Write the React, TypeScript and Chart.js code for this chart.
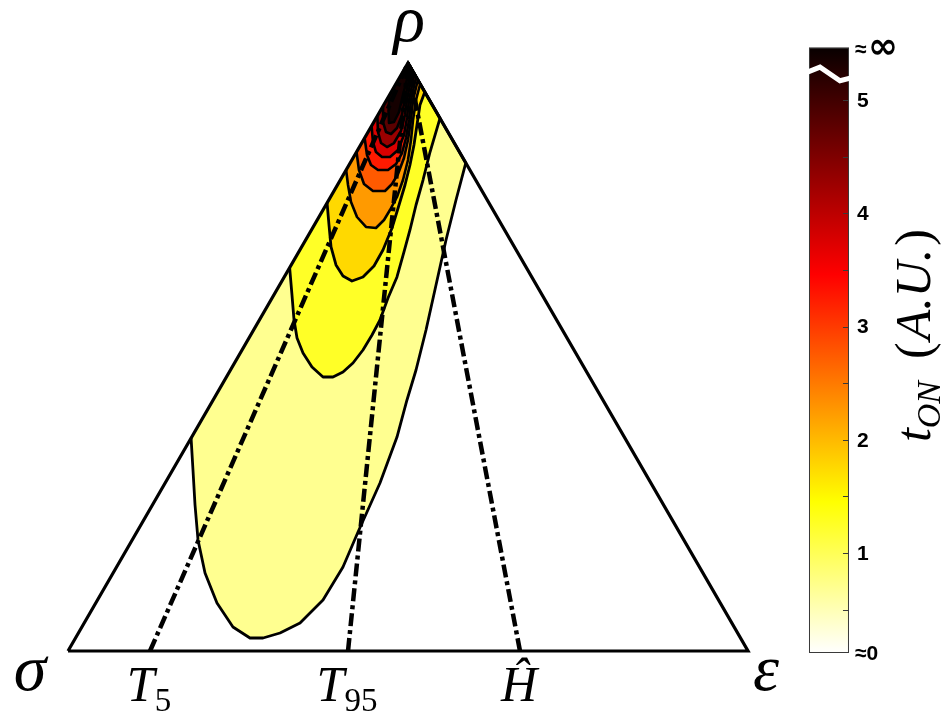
import React, { useEffect, useRef } from 'react';
import { Chart, registerables } from 'chart.js';

Chart.register(...registerables);

type Pt = [number, number];

// Triangle vertices in (base position, height) units: σ, ε, ρ
const vertexLabels = ['σ', 'ε', 'ρ'];
const vertexX = [0, 1, 0.5];
const vertexY = [0, 0, 1];

// Dash-dot reference lines (position on the σ–ε base, all meeting at ρ)
const refLineBaseX = [0.1206, 0.4118, 0.6647];
const refLineMain = ['T', 'T', 'Ĥ'];
const refLineSub = ['5', '95', ''];

// Filled contour levels of t_ON (A.U.)
const levelValues = [0.7, 1.25, 1.75, 2.25, 2.75, 3.25, 3.75, 4.25, 4.75, 5.3];

// Contour outlines (from the right edge, around the bottom, up to the left edge)
const contour1: Pt[] = [[0.585, 0.83], [0.5706, 0.767], [0.5559, 0.699], [0.5412, 0.6224], [0.5265, 0.5459], [0.5118, 0.4779], [0.4985, 0.4269], [0.4838, 0.3639], [0.4588, 0.2857], [0.4265, 0.2024], [0.4044, 0.1429], [0.375, 0.0867], [0.3412, 0.0476], [0.3118, 0.0306], [0.2868, 0.0221], [0.2676, 0.0221], [0.2426, 0.0408], [0.2191, 0.0816], [0.2015, 0.1327], [0.1912, 0.1888], [0.1868, 0.2483], [0.1838, 0.3078], [0.181, 0.362]];
const contour2: Pt[] = [[0.547, 0.906], [0.5324, 0.8486], [0.5221, 0.801], [0.5118, 0.7585], [0.5029, 0.716], [0.4941, 0.6786], [0.4838, 0.6361], [0.4706, 0.6003], [0.4588, 0.5629], [0.4471, 0.5374], [0.4338, 0.5119], [0.4191, 0.4898], [0.4044, 0.4745], [0.3897, 0.466], [0.375, 0.466], [0.3588, 0.483], [0.3456, 0.5068], [0.3368, 0.5323], [0.3324, 0.5629], [0.3294, 0.6054], [0.326, 0.651]];
const contour3: Pt[] = [[0.5247, 0.9507], [0.5176, 0.9286], [0.5132, 0.8946], [0.5088, 0.8605], [0.5029, 0.8265], [0.4956, 0.7925], [0.4868, 0.7585], [0.4765, 0.7194], [0.4632, 0.682], [0.45, 0.6548], [0.4338, 0.6361], [0.4176, 0.6293], [0.4044, 0.6378], [0.3941, 0.6565], [0.3868, 0.6871], [0.3838, 0.7245], [0.381, 0.762]];
const contour4: Pt[] = [[0.5179, 0.9643], [0.5118, 0.9371], [0.5074, 0.9031], [0.5044, 0.869], [0.5, 0.835], [0.4926, 0.801], [0.4838, 0.7721], [0.4735, 0.75], [0.4647, 0.733], [0.4529, 0.7194], [0.4382, 0.7211], [0.425, 0.7381], [0.4162, 0.7636], [0.4118, 0.7925], [0.409, 0.818]];
const contour5: Pt[] = [[0.5145, 0.9711], [0.5074, 0.9371], [0.5044, 0.9031], [0.5, 0.869], [0.4941, 0.8384], [0.4853, 0.8112], [0.4765, 0.7942], [0.4662, 0.7823], [0.4485, 0.7823], [0.4353, 0.7942], [0.4279, 0.818], [0.4243, 0.8486]];
const contour6: Pt[] = [[0.5119, 0.9762], [0.5044, 0.9371], [0.5015, 0.9031], [0.4971, 0.8724], [0.4912, 0.8469], [0.4824, 0.8282], [0.4706, 0.818], [0.4559, 0.818], [0.4456, 0.8265], [0.4397, 0.8435], [0.4362, 0.8724]];
const contour7: Pt[] = [[0.5094, 0.9813], [0.5015, 0.9371], [0.4985, 0.9065], [0.4941, 0.8776], [0.4853, 0.852], [0.4735, 0.8401], [0.4618, 0.8401], [0.4529, 0.8486], [0.4485, 0.8656], [0.4464, 0.8929]];
const contour8: Pt[] = [[0.5068, 0.9864], [0.4985, 0.9371], [0.4956, 0.9116], [0.4897, 0.8844], [0.4794, 0.8639], [0.4691, 0.8571], [0.4603, 0.8639], [0.4559, 0.8827], [0.4549, 0.9099]];
const contour9: Pt[] = [[0.5051, 0.9898], [0.4956, 0.9405], [0.4912, 0.9116], [0.4838, 0.8895], [0.475, 0.8793], [0.4676, 0.8827], [0.4632, 0.8997], [0.4634, 0.9269]];
const contour10: Pt[] = [[0.5034, 0.9932], [0.4926, 0.9456], [0.4868, 0.9167], [0.4794, 0.8997], [0.4721, 0.898], [0.4713, 0.9201], [0.4719, 0.9439]];
const contours = [contour1, contour2, contour3, contour4, contour5, contour6, contour7, contour8, contour9, contour10];

// Colour bar
const cbRange = [0.117, 5.462];
const cbMajorTicks = [1, 2, 3, 4, 5];
const cbMajorLabels = ['1', '2', '3', '4', '5'];
const cbMinorTicks = [0.5, 1.5, 2.5, 3.5, 4.5];
const cbEndLabels = ['≈0', '≈', '∞'];
const cbBarX = [1.0897, 1.1485];
const cbBreakFx = [-0.225, 0.275, 0.775, 1.325];
const cbBreakV = [5.22, 5.29, 5.17, 5.22];
const cbTitleParts = ['t', 'ON', '(', 'A.U.', ')'];
const cbTitlePos = [1.2456, 2.92];

function hotReversed(v: number): string {
  const s = (v - cbRange[0]) / (cbRange[1] - cbRange[0]);
  const t = 1 - s;
  const c = (a: number) => Math.max(0, Math.min(1, a));
  const r = c(t / 0.375);
  const g = c((t - 0.375) / 0.375);
  const b = c((t - 0.75) / 0.25);
  return `rgb(${Math.round(r * 255)},${Math.round(g * 255)},${Math.round(b * 255)})`;
}

type Run = { text: string; font: string; dy?: number; gap?: number };

function drawRuns(ctx: CanvasRenderingContext2D, runs: Run[], cx: number, baseline: number) {
  let total = 0;
  const widths = runs.map((r) => {
    ctx.font = r.font;
    const w = ctx.measureText(r.text).width + (r.gap || 0);
    total += w;
    return w;
  });
  let x = cx - total / 2;
  ctx.textAlign = 'left';
  ctx.textBaseline = 'alphabetic';
  runs.forEach((r, i) => {
    ctx.font = r.font;
    ctx.fillText(r.text, x + (r.gap || 0), baseline + (r.dy || 0));
    x += widths[i];
  });
}

const SERIF = '"Liberation Serif", "DejaVu Serif", serif';
const SANS = '"Liberation Sans", Arial, sans-serif';

const overlayPlugin = {
  id: 'overlay',
  afterDraw(chart: any) {
    const { ctx, scales } = chart;
    const xs = scales.x;
    const ys = scales.y;
    const cs = scales.cb;
    ctx.save();
    ctx.fillStyle = '#000';

    // vertex labels
    const vOff: Pt[] = [[-38, 39], [18, 39], [1, -22]];
    vertexLabels.forEach((lab, i) => {
      const px = xs.getPixelForValue(vertexX[i]) + vOff[i][0];
      const py = ys.getPixelForValue(vertexY[i]) + vOff[i][1];
      drawRuns(ctx, [{ text: lab, font: `italic 66px ${SERIF}` }], px, py);
    });

    // reference line labels
    refLineBaseX.forEach((bx, i) => {
      const px = xs.getPixelForValue(bx) - 1;
      const py = ys.getPixelForValue(0) + 50;
      const runs: Run[] = [{ text: refLineMain[i], font: `italic 50px ${SERIF}` }];
      if (refLineSub[i]) runs.push({ text: refLineSub[i], font: `33px ${SERIF}`, dy: 10 });
      drawRuns(ctx, runs, px, py);
    });

    // colour bar
    const left = xs.getPixelForValue(cbBarX[0]);
    const right = xs.getPixelForValue(cbBarX[1]);
    const bottom = cs.getPixelForValue(cbRange[0]);
    const top = cs.getPixelForValue(cbRange[1]);
    const grad = ctx.createLinearGradient(0, bottom, 0, top);
    grad.addColorStop(0, hotReversed(cbRange[0]));
    grad.addColorStop(0.25, hotReversed(cbRange[0] + 0.25 * (cbRange[1] - cbRange[0])));
    grad.addColorStop(0.625, hotReversed(cbRange[0] + 0.625 * (cbRange[1] - cbRange[0])));
    grad.addColorStop(1, 'rgb(8,0,0)');
    ctx.fillStyle = grad;
    ctx.fillRect(left, top, right - left, bottom - top);
    ctx.strokeStyle = '#3a3a3a';
    ctx.lineWidth = 1;
    ctx.strokeRect(left + 0.5, top + 0.5, right - left - 1, bottom - top - 1);
    ctx.beginPath();
    [...cbMajorTicks, ...cbMinorTicks].forEach((v) => {
      const py = Math.round(cs.getPixelForValue(v)) + 0.5;
      ctx.moveTo(right - 6, py);
      ctx.lineTo(right, py);
    });
    ctx.stroke();

    // break mark
    ctx.strokeStyle = '#fff';
    ctx.lineWidth = 5;
    ctx.lineJoin = 'miter';
    ctx.beginPath();
    cbBreakFx.forEach((fx, i) => {
      const px = left + fx * (right - left);
      const py = cs.getPixelForValue(cbBreakV[i]);
      if (i === 0) ctx.moveTo(px, py);
      else ctx.lineTo(px, py);
    });
    ctx.stroke();

    ctx.fillStyle = '#000';
    ctx.font = `bold 21px ${SANS}`;
    ctx.textAlign = 'left';
    ctx.textBaseline = 'middle';
    cbMajorTicks.forEach((v, i) => {
      ctx.fillText(cbMajorLabels[i], right + 8, cs.getPixelForValue(v) + 1);
    });
    ctx.fillText(cbEndLabels[0], right + 6, bottom + 1);
    ctx.fillText(cbEndLabels[1], right + 6, top + 3);
    ctx.font = `bold 36px "DejaVu Sans", sans-serif`;
    ctx.fillText(cbEndLabels[2], right + 19, top + 1);

    // colour bar title (rotated)
    const tx = xs.getPixelForValue(cbTitlePos[0]);
    const ty = cs.getPixelForValue(cbTitlePos[1]);
    ctx.translate(tx, ty);
    ctx.rotate(-Math.PI / 2);
    drawRuns(
      ctx,
      [
        { text: cbTitleParts[0], font: `italic 50px ${SERIF}` },
        { text: cbTitleParts[1], font: `italic 34px ${SERIF}`, dy: 10 },
        { text: cbTitleParts[2], font: `50px ${SERIF}`, gap: 22 },
        { text: cbTitleParts[3], font: `italic 50px ${SERIF}`, gap: 2 },
        { text: cbTitleParts[4], font: `50px ${SERIF}`, gap: 3 },
      ],
      0,
      15
    );
    ctx.restore();
  },
};

export default function App() {
  const ref = useRef<HTMLCanvasElement>(null);
  useEffect(() => {
    if (!ref.current) return;
    const apex = { x: vertexX[2], y: vertexY[2] };
    const datasets: any[] = [];
    contours.forEach((c, i) => {
      datasets.push({
        data: [apex, ...c.map(([x, y]) => ({ x, y }))],
        fill: 'shape',
        backgroundColor: hotReversed(levelValues[i]),
        borderColor: '#000',
        borderWidth: i < 3 ? 2.8 : 2.6,
        borderJoinStyle: 'round',
        pointRadius: 0,
        tension: 0,
        yAxisID: 'y',
        xAxisID: 'x',
      });
    });
    refLineBaseX.forEach((bx) => {
      datasets.push({
        data: [{ x: bx, y: 0 }, apex],
        fill: false,
        borderColor: '#000',
        borderWidth: 4.5,
        borderDash: [13, 4, 4, 4],
        borderCapStyle: 'butt',
        pointRadius: 0,
        yAxisID: 'y',
        xAxisID: 'x',
      });
    });
    datasets.push({
      data: [0, 1, 2, 0].map((k) => ({ x: vertexX[k], y: vertexY[k] })),
      fill: false,
      borderColor: '#000',
      borderWidth: 3.2,
      borderJoinStyle: 'miter',
      pointRadius: 0,
      yAxisID: 'y',
      xAxisID: 'x',
    });
    datasets.forEach((d, i) => (d.order = datasets.length - i));

    const chart = new Chart(ref.current, {
      type: 'line',
      data: { datasets },
      options: {
        animation: false,
        responsive: true,
        maintainAspectRatio: false,
        events: [],
        layout: { padding: 0 },
        plugins: { legend: { display: false }, tooltip: { enabled: false } },
        scales: {
          x: { type: 'linear', min: -0.1, max: 1.289706, display: false },
          y: { type: 'linear', min: -0.107143, max: 1.107143, display: false },
          cb: { type: 'linear', axis: 'y', min: -0.4216, max: 5.883, display: false },
        },
      } as any,
      plugins: [overlayPlugin],
    });
    return () => chart.destroy();
  }, []);
  return (
    <div style={{ position: 'absolute', left: 0, top: 0, width: 945, height: 714, background: '#fff' }}>
      <canvas ref={ref} />
    </div>
  );
}
